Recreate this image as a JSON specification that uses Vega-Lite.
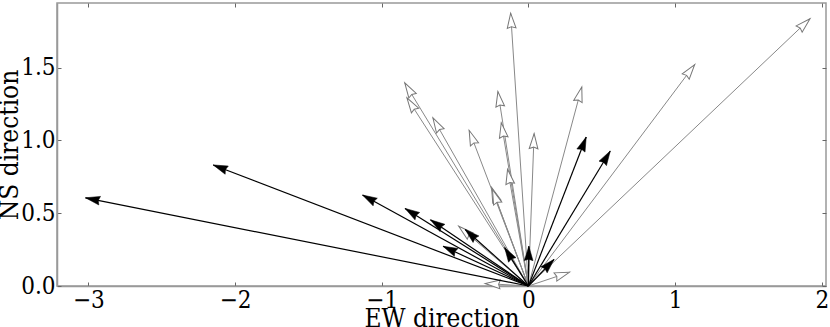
{
  "$schema": "https://vega.github.io/schema/vega-lite/v6.json",
  "width": 769,
  "height": 283,
  "autosize": "none",
  "padding": {"left": 57, "top": 3, "right": 4, "bottom": 41},
  "background": "white",
  "config": {
    "view": {"stroke": "#999999", "strokeWidth": 1.5},
    "axis": {
      "labelFont": "DejaVu Serif Condensed, DejaVu Serif",
      "labelFontSize": 24,
      "labelColor": "#000000",
      "titleFont": "DejaVu Serif Condensed, DejaVu Serif",
      "titleFontSize": 26,
      "titleFontWeight": "normal",
      "titleColor": "#000000",
      "grid": false,
      "domainColor": "#999999",
      "domainWidth": 1.5,
      "tickColor": "#666666",
      "tickSize": -4,
      "labelPadding": 6
    }
  },
  "data": {
    "values": [
      {"kind": "obs", "x0": 0, "y0": 0, "u": -3.02, "v": 0.606},
      {"kind": "obs", "x0": 0, "y0": 0, "u": -2.149, "v": 0.832},
      {"kind": "obs", "x0": 0, "y0": 0, "u": -1.131, "v": 0.625},
      {"kind": "obs", "x0": 0, "y0": 0, "u": -0.841, "v": 0.533},
      {"kind": "obs", "x0": 0, "y0": 0, "u": -0.668, "v": 0.455},
      {"kind": "obs", "x0": 0, "y0": 0, "u": -0.582, "v": 0.273},
      {"kind": "obs", "x0": 0, "y0": 0, "u": -0.431, "v": 0.388},
      {"kind": "obs", "x0": 0, "y0": 0, "u": -0.162, "v": 0.264},
      {"kind": "obs", "x0": 0, "y0": 0, "u": 0.003, "v": 0.274},
      {"kind": "obs", "x0": 0, "y0": 0, "u": 0.175, "v": 0.183},
      {"kind": "obs", "x0": 0, "y0": 0, "u": 0.394, "v": 1.024},
      {"kind": "obs", "x0": 0, "y0": 0, "u": 0.558, "v": 0.928},
      {"kind": "model", "x0": 0, "y0": 0, "u": 1.92, "v": 1.837},
      {"kind": "model", "x0": 0, "y0": 0, "u": 1.134, "v": 1.522},
      {"kind": "model", "x0": 0, "y0": 0, "u": 0.364, "v": 1.368},
      {"kind": "model", "x0": 0, "y0": 0, "u": -0.121, "v": 1.875},
      {"kind": "model", "x0": 0, "y0": 0, "u": -0.843, "v": 1.396},
      {"kind": "model", "x0": 0, "y0": 0, "u": -0.828, "v": 1.293},
      {"kind": "model", "x0": 0, "y0": 0, "u": -0.651, "v": 1.156},
      {"kind": "model", "x0": 0, "y0": 0, "u": -0.208, "v": 1.336},
      {"kind": "model", "x0": 0, "y0": 0, "u": -0.185, "v": 1.122},
      {"kind": "model", "x0": 0, "y0": 0, "u": -0.404, "v": 1.07},
      {"kind": "model", "x0": 0, "y0": 0, "u": 0.039, "v": 1.047},
      {"kind": "model", "x0": 0, "y0": 0, "u": -0.142, "v": 0.803},
      {"kind": "model", "x0": 0, "y0": 0, "u": -0.251, "v": 0.677},
      {"kind": "model", "x0": 0, "y0": 0, "u": -0.245, "v": 0.663},
      {"kind": "model", "x0": 0, "y0": 0, "u": -0.475, "v": 0.411},
      {"kind": "model", "x0": 0, "y0": 0, "u": 0.281, "v": 0.095},
      {"kind": "model", "x0": 0, "y0": 0, "u": -0.295, "v": 0.017}
    ]
  },
  "transform": [
    {"calculate": "90 - atan2(datum.v * 146, datum.u * 146.8) * 180 / PI", "as": "angle"}
  ],
  "resolve": {"axis": {"x": "independent", "y": "independent"}},
  "layer": [
    {
      "transform": [{"filter": "datum.kind === 'model'"}],
      "mark": {"type": "rule", "color": "#888888", "strokeWidth": 1},
      "encoding": {
        "x": {"field": "x0", "type": "quantitative", "scale": {"domain": [-3.214, 2.029], "nice": false, "zero": false},
              "axis": {"title": "EW direction", "values": [-3, -2, -1, 0, 1, 2], "format": "d", "titlePadding": -7, "orient": "bottom"}},
        "y": {"field": "y0", "type": "quantitative", "scale": {"domain": [0, 1.945], "nice": false, "zero": false},
              "axis": {"title": "NS direction", "values": [0, 0.5, 1, 1.5], "format": ".1f", "titlePadding": -2, "orient": "left"}},
        "x2": {"field": "u"},
        "y2": {"field": "v"}
      }
    },
    {
      "transform": [{"filter": "datum.kind === 'model'"}],
      "mark": {"type": "point", "shape": "M0,0L-0.58,2L0,1.8L0.58,2Z", "size": 225, "filled": true, "fill": "white", "stroke": "#777777", "strokeWidth": 1, "opacity": 1},
      "encoding": {
        "x": {"field": "u", "type": "quantitative", "scale": {"domain": [-3.214, 2.029], "nice": false, "zero": false}, "axis": null},
        "y": {"field": "v", "type": "quantitative", "scale": {"domain": [0, 1.945], "nice": false, "zero": false}, "axis": null},
        "angle": {"field": "angle", "type": "quantitative", "scale": null}
      }
    },
    {
      "transform": [{"filter": "datum.kind === 'obs'"}],
      "mark": {"type": "rule", "color": "#000000", "strokeWidth": 1.2},
      "encoding": {
        "x": {"field": "x0", "type": "quantitative", "scale": {"domain": [-3.214, 2.029], "nice": false, "zero": false}, "axis": null},
        "y": {"field": "y0", "type": "quantitative", "scale": {"domain": [0, 1.945], "nice": false, "zero": false}, "axis": null},
        "x2": {"field": "u"},
        "y2": {"field": "v"}
      }
    },
    {
      "transform": [{"filter": "datum.kind === 'obs'"}],
      "mark": {"type": "point", "shape": "M0,0L-0.6,2L0,1.8L0.6,2Z", "size": 210, "filled": true, "fill": "#000000", "stroke": "#000000", "strokeWidth": 0.5, "opacity": 1},
      "encoding": {
        "x": {"field": "u", "type": "quantitative", "scale": {"domain": [-3.214, 2.029], "nice": false, "zero": false},
              "axis": {"orient": "top", "title": null, "labels": false, "values": [-3, -2, -1, 0, 1, 2], "domain": false}},
        "y": {"field": "v", "type": "quantitative", "scale": {"domain": [0, 1.945], "nice": false, "zero": false},
              "axis": {"orient": "right", "title": null, "labels": false, "values": [0, 0.5, 1, 1.5], "domain": false}},
        "angle": {"field": "angle", "type": "quantitative", "scale": null}
      }
    }
  ]
}
